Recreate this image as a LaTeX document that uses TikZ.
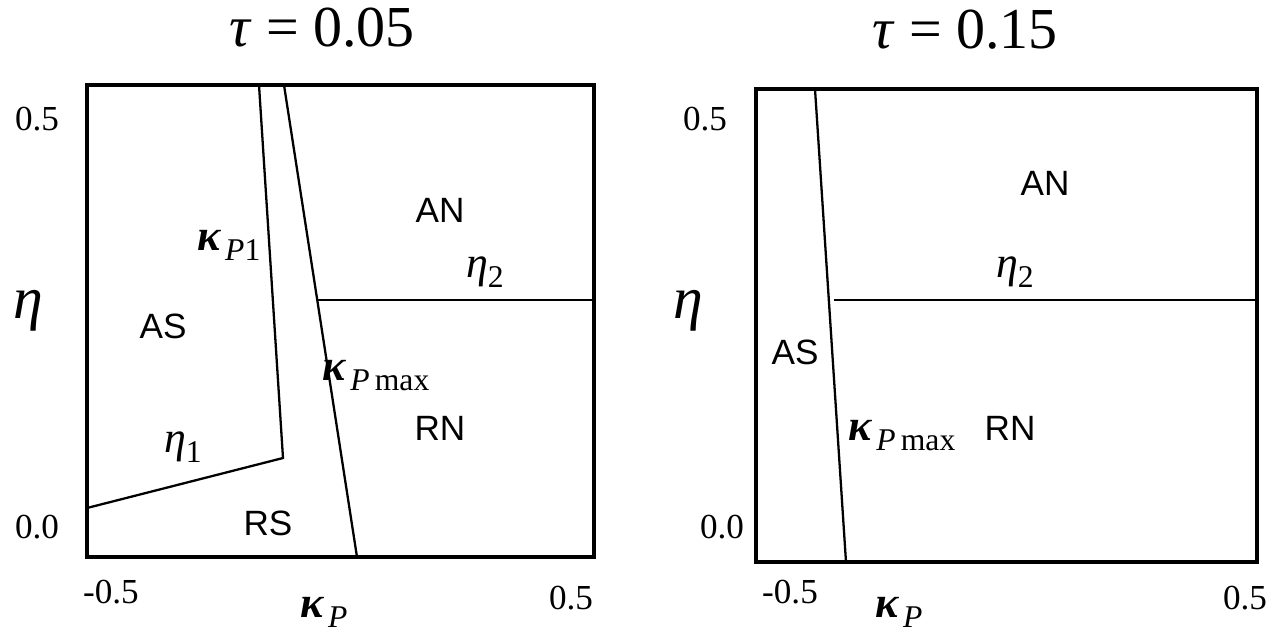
\documentclass[tikz,border=0pt]{standalone}
\usepackage{fontspec}
\setmainfont{Liberation Serif}
\setsansfont{Liberation Sans}
\usetikzlibrary{positioning}
\newcommand{\kap}{\textbf{\textit{κ}}}
\newcommand{\lowsub}[1]{\raisebox{-0.5ex}{\fontsize{18}{18}\selectfont #1}}
\newcommand{\kapsub}[1]{\kap\kern2pt\lowsub{#1}}
\begin{document}
\begin{tikzpicture}[x=0.02cm,y=-0.02cm,
  frame/.style={line width=1.8pt},
  bound/.style={line width=1.3pt},
  region/.style={font=\sffamily\fontsize{20}{20}\selectfont},
  tick/.style={font=\fontsize{20}{20}\selectfont,anchor=base},
  ttl/.style={font=\fontsize{33}{33}\selectfont,anchor=base,inner sep=0pt},
  sym/.style={font=\fontsize{25}{25}\selectfont}]
\useasboundingbox (0,0) rectangle (1272,643);

% left panel, tau = 0.05
\node[ttl] (ttlA) at (322,46) {\textit{τ} = 0.05};
\draw[frame] (87,85) rectangle (594,557);
\coordinate (kA1) at (259,85);
\coordinate (kA2) at (283,458);
\coordinate (eA1) at (87,508);
\coordinate (mA1) at (284,85);
\coordinate (mA2) at (357,557);
\coordinate (nA1) at (318,300);
\coordinate (nA2) at (594,300);
\draw[bound] (kA1) -- (kA2) -- (eA1);
\draw[bound] (mA1) -- (mA2);
\draw[bound] (nA1) -- (nA2);
\node[tick] (yA5) at (37,130) {0.5};
\node[tick] (yA0) at (37,538) {0.0};
\node[tick] (xA0) at (111,603) {-0.5};
\node[tick] (xA5) at (571,609) {0.5};
\node[sym,anchor=base] (labxA) at (324,617) {\kapsub{\textit{P}}};
\node[font=\fontsize{34}{34}\selectfont,anchor=base] (labyA) at (28,318) {\textit{η}};
\node[region] (asA) at (163,326) {AS};
\node[region] (rsA) at (268,523) {RS};
\node[region] (anA) at (440,210) {AN};
\node[region] (rnA) at (440,428) {RN};
\node[sym] (kp1A) at (229,245) {\kapsub{\textit{P}1}};
\node[sym] (e1A) at (183,447) {\textit{η}\lowsub{1}};
\node[sym] (kmA) at (376,376) {\kapsub{\textit{P}\,max}};
\node[sym] (e2A) at (485,272) {\textit{η}\lowsub{2}};

% right panel, tau = 0.15
\node[ttl] (ttlB) at (965,48) {\textit{τ} = 0.15};
\draw[frame] (756,89) rectangle (1257,562);
\coordinate (mB1) at (815,89);
\coordinate (mB2) at (846,562);
\coordinate (nB1) at (834,300);
\coordinate (nB2) at (1257,300);
\draw[bound] (mB1) -- (mB2);
\draw[bound] (nB1) -- (nB2);
\node[tick] (yB5) at (705,130) {0.5};
\node[tick] (yB0) at (722,538) {0.0};
\node[tick] (xB0) at (790,603) {-0.5};
\node[tick] (xB5) at (1245,609) {0.5};
\node[sym,anchor=base] (labxB) at (899,617) {\kapsub{\textit{P}}};
\node[font=\fontsize{34}{34}\selectfont,anchor=base] (labyB) at (688,318) {\textit{η}};
\node[region] (asB) at (795,352) {AS};
\node[region] (anB) at (1045,183) {AN};
\node[region] (rnB) at (1010,428) {RN};
\node[sym] (kmB) at (902,436) {\kapsub{\textit{P}\,max}};
\node[sym] (e2B) at (1015,272) {\textit{η}\lowsub{2}};
\end{tikzpicture}
\end{document}
